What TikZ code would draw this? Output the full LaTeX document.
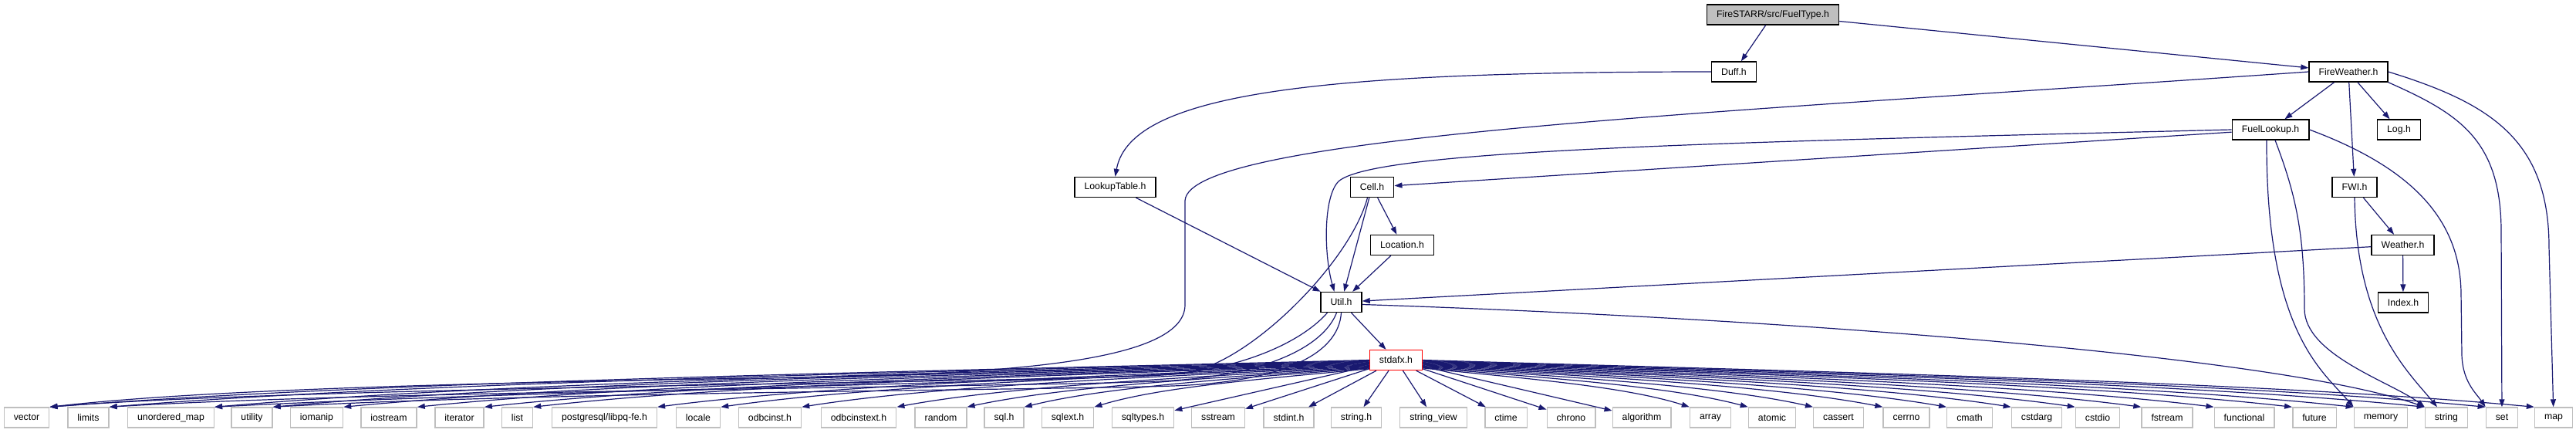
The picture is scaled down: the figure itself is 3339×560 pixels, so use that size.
\documentclass[tikz,border=0pt]{standalone}
\usepackage{fontspec}
\newfontfamily\dotfont{Liberation Sans}
\usetikzlibrary{arrows.meta, positioning, calc}

\definecolor{edgeblue}{HTML}{191970}
\definecolor{sysgray}{HTML}{BFBFBF}

\begin{document}
\begin{tikzpicture}[
    x=1pt, y=-1pt,
    file/.style={draw, line width=1.4pt, fill=white, minimum height=26pt, inner xsep=12.5pt, inner ysep=0pt, font=\dotfont\fontsize{12.3pt}{14pt}\selectfont},
    rootfile/.style={file, fill=sysgray},
    sysfile/.style={file, draw=sysgray},
    cutfile/.style={file, draw=red},
    dep/.style={->, draw=edgeblue, line width=1.2pt},
    >={Triangle[length=10pt, width=7pt]}
]

\useasboundingbox (0,0) rectangle (3339,560);

% Project headers
\node[rootfile] (root) at (2298,19) {FireSTARR/src/FuelType.h};
\node[file] (duff) at (2247.5,93) {Duff.h};
\node[file] (fw) at (3044,93) {FireWeather.h};
\node[file] (flk) at (2943,168) {FuelLookup.h};
\node[file] (log) at (3109.5,168) {Log.h};
\node[file] (lkt) at (1445.5,242.5) {LookupTable.h};
\node[file] (cell) at (1778.5,242.5) {Cell.h};
\node[file] (fwi) at (3052,242.5) {FWI.h};
\node[file] (locn) at (1817.5,317.5) {Location.h};
\node[file] (wth) at (3114.5,317.5) {Weather.h};
\node[file] (util) at (1738.5,391.5) {Util.h};
\node[file] (idx) at (3115,392) {Index.h};
\node[cutfile] (sfx) at (1809.5,466.5) {stdafx.h};

% System headers
\foreach \name/\xpos/\txt in {vec/34.5/vector, lim/114.5/limits, umap/221.5/unordered\_map,
    utl/326.5/utility, iom/410.5/iomanip, ios/504/iostream, itr/595.5/iterator, lst/670.5/list,
    lcl/905/locale, odbc/998/odbcinst.h, odbcx/1113/odbcinstext.h, rnd/1219.5/random,
    sql/1301.5/sql.h, sqlx/1384/sqlext.h, sqlt/1481.5/sqltypes.h, sst/1579/sstream,
    sint/1670.5/stdint.h, strh/1758/string.h, strv/1858/string\_view, ctm/1952/ctime,
    chr/2036.5/chrono, alg/2128/algorithm, arr/2217/array, atm/2297/atomic, cas/2383/cassert,
    cer/2471/cerrno, cmt/2553/cmath, csa/2640/cstdarg, csi/2719/cstdio, fst/2809/fstream,
    fun/2909/functional, fut/3000/future, mem/3086/memory, str/3171/string, set/3243/set,
    map/3310/map}
  \node[sysfile] (\name) at (\xpos,541) {\txt};
\node[sysfile] (pq) at (783.5,541) {postgresql/libpq-fe.h};

% FuelType.h
\draw[dep] (root) -- (duff);
\draw[dep] (root) -- (fw);

% Duff.h
\draw[dep] (duff.west) .. controls +(-500,0) and +(20,-110) .. (lkt.north);
\draw[dep] (lkt) -- (util);

% FireWeather.h
\draw[dep] (fw) -- (flk);
\draw[dep] (fw) -- (fwi);
\draw[dep] (fw) -- (log);
\draw[dep] (fw.west) .. controls (2250,145) and (1540,175) .. (1536,260) -- (1536,395)
    .. controls (1536,470) and (1300,484) .. (1040,489)
    .. controls (600,496) and (260,505) .. (vec.north east);
\draw[dep] (fw.south east) .. controls +(90,40) and +(0,-120) .. (3242,300) -- (set);
\draw[dep] (fw.east) .. controls +(130,40) and +(0,-140) .. (3304,320) -- (map);

% FuelLookup.h
\draw[dep] (flk) -- (cell);
\draw[dep] (flk.west) .. controls (2200,185) and (1780,195) .. (1735,235)
    .. controls (1715,255) and (1716,330) .. ([xshift=-9pt]util.north);
\draw[dep] ([xshift=-5pt]flk.south) .. controls (2937,430) and (3010,480) .. (mem.north west);
\draw[dep] ([xshift=6pt]flk.south) .. controls (2975,250) and (2987,300) .. (2987,400)
    .. controls (2987,460) and (3100,495) .. (str.north west);
\draw[dep] (flk.east) .. controls (3120,215) and (3189,280) .. (3190,380) -- (3191,460)
    .. controls (3192,495) and (3210,510) .. (set.north west);

% FWI.h and Weather.h
\draw[dep] (fwi) -- (wth);
\draw[dep] (fwi.south) .. controls (3054,420) and (3120,480) .. ([xshift=-12pt]str.north);
\draw[dep] (wth) -- (idx);
\draw[dep] (wth) -- (util);

% Cell.h and Location.h
\draw[dep] (cell) -- (locn);
\draw[dep] (cell) -- (util);
\draw[dep] ([xshift=-6pt]cell.south) .. controls (1750,340) and (1620,470) .. (1540,482)
    .. controls (1460,494) and (700,505) .. (umap.north east);
\draw[dep] (locn) -- (util);

% Util.h
\draw[dep] (util) -- (sfx);
\draw[dep] ([yshift=-3pt]util.east) .. controls (2300,412) and (2950,460) .. (str.north west);
\draw[dep] ([xshift=-18pt]util.south) .. controls (1690,440) and (1620,475) .. (1520,485)
    .. controls (1420,495) and (400,500) .. (vec.north east);
\draw[dep] ([xshift=-6pt]util.south) .. controls (1715,450) and (1640,485) .. (1520,493)
    .. controls (1400,501) and (500,505) .. (lim.north east);
\draw[dep] (util.south) .. controls (1735,460) and (1660,495) .. (1520,500)
    .. controls (1380,505) and (700,508) .. (utl.north east);

% stdafx.h (let-values are in pt: down is negative here)
\foreach \t [count=\i] in {vec,lim,umap,utl,iom,ios,itr,lst,pq,lcl,odbc,odbcx,rnd,sql,sqlx}
  \draw[dep] let \p1=([yshift=-0.8*(\i-1)*1pt]sfx.west), \p2=(\t.north east),
      \n1={\x2-\x1}, \n4={\y2-\y1} in
    (\p1) .. controls +(0.35*\n1,0.25*\n4) and +(-0.25*\n1,-0.55*\n4) .. (\p2);
\foreach \t in {sqlt,sst,sint,strh,strv,ctm,chr,alg}
  \draw[dep] (sfx) -- (\t);
\foreach \t [count=\i] in {arr,atm,cas,cer,cmt,csa,csi,fst,fun,fut,mem,str,set,map}
  \draw[dep] let \p1=([yshift=-0.8*(14-\i)*1pt]sfx.east), \p2=(\t.north west),
      \n1={\x2-\x1}, \n4={\y2-\y1} in
    (\p1) .. controls +(0.35*\n1,0.25*\n4) and +(-0.25*\n1,-0.55*\n4) .. (\p2);

\end{tikzpicture}
\end{document}
